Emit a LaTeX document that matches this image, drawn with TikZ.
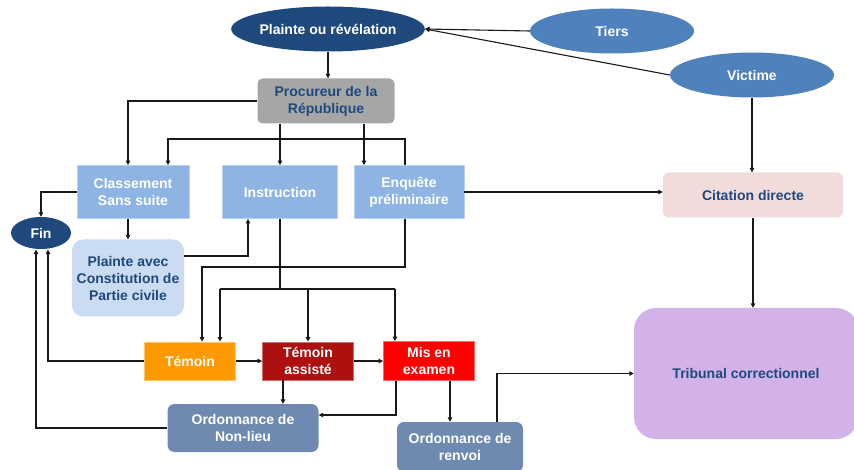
\documentclass[tikz,border=0pt]{standalone}
\usepackage{fontspec}
\setmainfont{Liberation Sans}
\usetikzlibrary{arrows.meta,shapes.geometric}
\definecolor{navy}{HTML}{1F497D}
\definecolor{midblue}{HTML}{4F81BD}
\definecolor{grayp}{HTML}{A6A6A6}
\definecolor{lblue}{HTML}{8DB4E2}
\definecolor{pblue}{HTML}{CADBF2}
\definecolor{pinkc}{HTML}{F2DCDB}
\definecolor{lilac}{HTML}{D2B2E8}
\definecolor{orangec}{HTML}{FF9900}
\definecolor{dred}{HTML}{AE1010}
\definecolor{redc}{HTML}{FF0000}
\definecolor{slate}{HTML}{6F8AB0}
\tikzset{
  base/.style={font=\fontsize{14}{17}\selectfont\bfseries, align=center, inner sep=0pt},
  ellnode/.style={base, ellipse, text=white},
  boxb/.style={base, rectangle, fill=lblue, draw=lblue!60!white, line width=0.8pt, text=white},
  boxr/.style={base, rectangle, line width=0.8pt, text=white},
  rbox/.style={base, rectangle, rounded corners=#1},
  arr/.style={draw=black!90, line width=1.1pt, -{Triangle[length=4.5pt,width=4.5pt]}},
  ln/.style={draw=black!90, line width=1.1pt},
}
\begin{document}
\begin{tikzpicture}[x=1pt,y=-1pt]
\useasboundingbox (0,0) rectangle (854,470);
\clip (0,0) rectangle (854,470);
% nodes
\node[ellnode, fill=navy, minimum width=184, minimum height=45] (plainte) at (328,29) {Plainte ou révélation};
\node[ellnode, fill=midblue, minimum width=164, minimum height=45] (tiers) at (612,31) {Tiers};
\node[ellnode, fill=midblue, minimum width=164, minimum height=45] (victime) at (752,75) {Victime};
\node[rbox=5pt, fill=grayp, text=navy, minimum width=137, minimum height=45] (proc) at (326,101) {Procureur de la\\République};
\node[boxb, minimum width=112, minimum height=53] (cls) at (133,192) {Classement\\Sans suite};
\node[boxb, minimum width=115, minimum height=53] (inst) at (280,192) {Instruction};
\node[boxb, minimum width=110, minimum height=53] (enq) at (409,192) {Enquête\\préliminaire};
\node[ellnode, fill=navy, minimum width=60, minimum height=32] (fin) at (41,233) {Fin};
\node[rbox=11pt, fill=pblue, text=navy, minimum width=112, minimum height=77] (pac) at (128,278) {Plainte avec\\Constitution de\\Partie civile};
\node[boxr, fill=orangec, draw=orangec!60!white, minimum width=91, minimum height=38] (temoin) at (190,361) {Témoin};
\node[boxr, fill=dred, draw=dred!60!white, minimum width=91, minimum height=38] (ta) at (308,361) {Témoin\\assisté};
\node[boxr, fill=redc, draw=redc!60!white, minimum width=91, minimum height=39] (mis) at (429,361) {Mis en\\examen};
\node[rbox=7pt, fill=slate, text=white, minimum width=151, minimum height=48] (onl) at (243,428) {Ordonnance de\\Non-lieu};
\node[rbox=7pt, fill=slate, text=white, minimum width=126, minimum height=50] (ren) at (460,447) {Ordonnance de\\renvoi};
\node[rbox=6pt, fill=pinkc, text=navy, minimum width=180, minimum height=45] (cit) at (753,195) {Citation directe};
\node[rbox=22pt, fill=lilac, text=navy, minimum width=224, minimum height=131] (trib) at (746,373.5) {Tribunal correctionnel};
% routing coordinates
\coordinate (c1) at (364,0);
\coordinate (e1) at (405,139);
\coordinate (e2) at (168,139);
\coordinate (p1) at (248,256);
\coordinate (q1) at (405,267);
\coordinate (q2) at (202,267);
\coordinate (r0) at (280,289);
\coordinate (r1) at (220,289);
\coordinate (r2) at (308,289);
\coordinate (r3) at (395,289);
\coordinate (t1) at (283,0);
\coordinate (m1) at (396,415);
\coordinate (m2) at (450,0);
\coordinate (n1) at (497,0);
% connectors
\draw[arr] (tiers.west) -- (plainte.east);
\draw[arr] (victime.west) -- (plainte.east);
\draw[arr] (plainte.south) -- (plainte.south |- proc.north);
\draw[arr] (proc.west) -| ([xshift=-5pt]cls.north);
\draw[arr] (proc.south -| inst.north) -- (inst.north);
\draw[arr] (proc.south -| c1) -- (enq.north -| c1);
\draw[arr] (enq.north -| e1) -- (e1) -- (e2) -- (cls.north -| e2);
\draw[arr] (cls.west) -| (fin.north);
\draw[arr] (pac.north |- cls.south) -- (pac.north);
\draw[arr] (pac.east |- p1) -- (p1) -- (inst.south -| p1);
\draw[arr] (enq.south -| q1) -- (q1) -- (q2) -- (temoin.north -| q2);
\draw[ln] (inst.south) -- (r0);
\draw[ln] (r1) -- (r3);
\draw[arr] (r1) -- (temoin.north -| r1);
\draw[arr] (r2) -- (ta.north);
\draw[arr] (r3) -- (mis.north -| r3);
\draw[arr] (temoin.east) -- (ta.west);
\draw[arr] (ta.east) -- (mis.west);
\draw[arr] (temoin.west) -| ([xshift=7pt,yshift=-0.4pt]fin.south);
\draw[arr] (onl.west) -| ([xshift=-5pt,yshift=-0.4pt]fin.south);
\draw[arr] (ta.south -| t1) -- (onl.north -| t1);
\draw[arr] (mis.south -| m1) -- (m1) -- (onl.east |- m1);
\draw[arr] (mis.south -| m2) -- (ren.north -| m2);
\draw[arr] (ren.north -| n1) |- (trib.west);
\draw[arr] (enq.east) -- (enq.east -| cit.west);
\draw[arr] (victime.south) -- (victime.south |- cit.north);
\draw[arr] (cit.south) -- (cit.south |- trib.north);
\end{tikzpicture}
\end{document}
